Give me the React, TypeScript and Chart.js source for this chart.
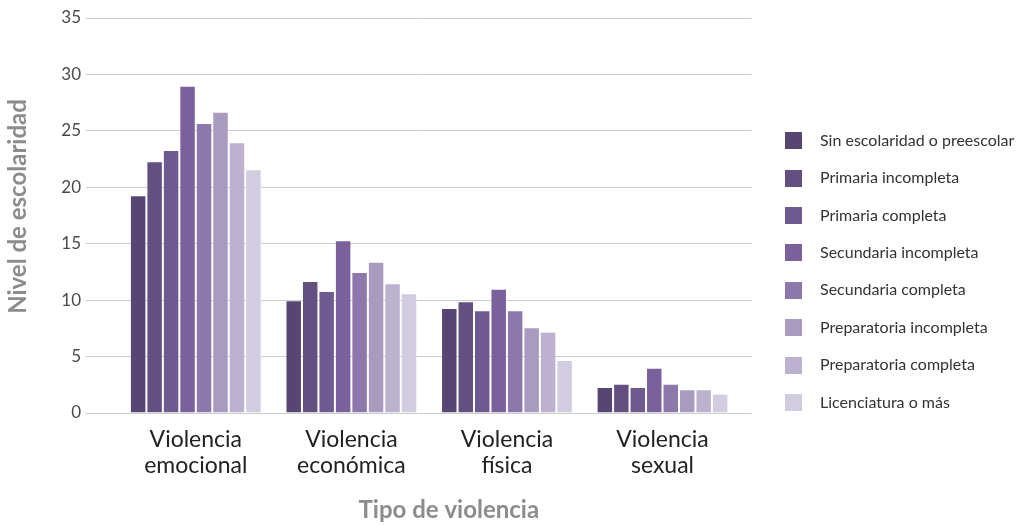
import React, { useEffect, useRef } from "react";
import { Chart, registerables } from "chart.js";

Chart.register(...registerables);

// ---- Data ----
const categories: string[][] = [
  ["Violencia", "emocional"],
  ["Violencia", "económica"],
  ["Violencia", "física"],
  ["Violencia", "sexual"],
];

const seriesNames = [
  "Sin escolaridad o preescolar",
  "Primaria incompleta",
  "Primaria completa",
  "Secundaria incompleta",
  "Secundaria completa",
  "Preparatoria incompleta",
  "Preparatoria completa",
  "Licenciatura o más",
];

const sinEscolaridad = [19.3, 10.0, 9.3, 2.3];
const primariaIncompleta = [22.3, 11.7, 9.9, 2.6];
const primariaCompleta = [23.3, 10.8, 9.1, 2.3];
const secundariaIncompleta = [29.0, 15.3, 11.0, 4.0];
const secundariaCompleta = [25.7, 12.5, 9.1, 2.6];
const preparatoriaIncompleta = [26.7, 13.4, 7.6, 2.1];
const preparatoriaCompleta = [24.0, 11.5, 7.2, 2.1];
const licenciatura = [21.6, 10.6, 4.7, 1.7];

const seriesValues = [
  sinEscolaridad,
  primariaIncompleta,
  primariaCompleta,
  secundariaIncompleta,
  secundariaCompleta,
  preparatoriaIncompleta,
  preparatoriaCompleta,
  licenciatura,
];

const colors = [
  "#574672",
  "#634f80",
  "#6f5a8f",
  "#7b619b",
  "#8c78ab",
  "#a99bbf",
  "#bcb2cf",
  "#d2cce0",
];

const yTitle = "\u2003Nivel de escolaridad";
const xTitle = "\u2002\u2002\u2002\u2002\u2002Tipo de violencia";

export default function App() {
  const ref = useRef<HTMLCanvasElement | null>(null);

  useEffect(() => {
    const canvas = ref.current;
    if (!canvas) return;
    Chart.defaults.font.family = "Lato";

    // measure longest legend label to place legend/plot exactly
    const mctx = document.createElement("canvas").getContext("2d")!;
    mctx.font = "16px Lato";
    const T = Math.max(...seriesNames.map((s) => mctx.measureText(s).width));
    const padRight = 188 - T;

    const SW = 39;
    const swatches = colors.map((c) => {
      const cv = document.createElement("canvas");
      cv.width = SW;
      cv.height = 17;
      const g = cv.getContext("2d")!;
      g.fillStyle = c;
      g.fillRect(12, 0, 17, 17);
      return cv;
    });

    const chart = new Chart(canvas, {
      type: "bar",
      data: {
        datasets: seriesValues.map((vals, i) => ({
          label: seriesNames[i],
          data: vals.map((v, j) => ({ x: j, y: v })),
          backgroundColor: colors[i],
          borderColor: "rgba(255,255,255,0.2)",
          borderWidth: 1,
          categoryPercentage: 0.847,
          barPercentage: 1,
        })),
      },
      options: {
        responsive: false,
        animation: false,
        layout: { padding: { top: 18, right: padRight, bottom: 0, left: 0 } },
        plugins: {
          tooltip: { enabled: false },
          legend: {
            position: "right",
            maxWidth: 2000,
            labels: {
              usePointStyle: true,
              pointStyleWidth: SW,
              padding: 21.4,
              color: "#333333",
              font: { family: "Lato", size: 16 },
              generateLabels: (ch: any) =>
                Chart.defaults.plugins.legend.labels
                  .generateLabels(ch)
                  .map((it: any, i: number) => ({ ...it, pointStyle: swatches[i] })),
            },
          },
        },
        scales: {
          x: {
            type: "linear",
            offset: false,
            min: -0.7058,
            max: 3.5727,
            grid: { display: false, drawTicks: false },
            border: { display: false },
            afterBuildTicks: (s: any) => {
              s.ticks = categories.map((_, i) => ({ value: i }));
            },
            afterFit: (s: any) => {
              s.height = 112;
            },
            ticks: {
              autoSkip: false,
              maxRotation: 0,
              padding: 14,
              color: "#222222",
              font: { family: "Lato", size: 23, lineHeight: 1.13 },
              callback: (v: any) => categories[Math.round(Number(v))] ?? "",
            },
            title: {
              display: true,
              text: xTitle,
              color: "#8c8c8c",
              font: { family: "Lato", size: 24, weight: "bold" },
              padding: { top: 10, bottom: 0 },
            },
          },
          y: {
            min: 0,
            max: 35,
            grid: { color: "#cbcbcb", lineWidth: 1, drawTicks: false },
            border: { display: false },
            afterFit: (s: any) => {
              s.width = 86;
            },
            ticks: {
              stepSize: 5,
              padding: 5,
              color: "#4a4a4a",
              font: { family: "Lato", size: 17 },
            },
            title: {
              display: true,
              text: yTitle,
              color: "#8c8c8c",
              font: { family: "Lato", size: 24, weight: "bold" },
              padding: { top: 4, bottom: 0 },
            },
          },
        },
      } as any,
    });
    return () => chart.destroy();
  }, []);

  return (
    <div style={{ position: "fixed", left: 0, top: 0, width: 1018, height: 525, background: "#ffffff" }}>
      <canvas ref={ref} width={1018} height={525} style={{ display: "block" }} />
    </div>
  );
}
